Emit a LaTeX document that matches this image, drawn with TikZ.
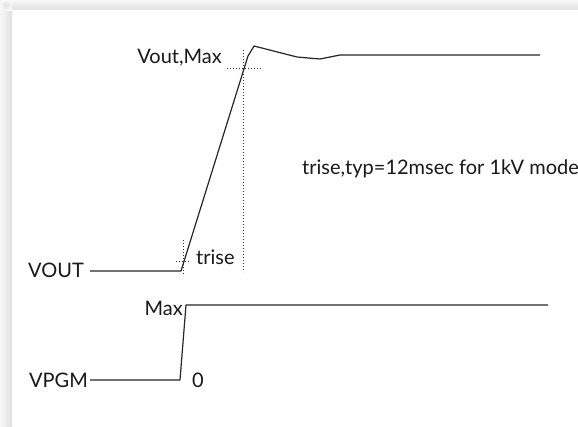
\documentclass[tikz,border=0pt]{standalone}
\usepackage{fontspec}
\setmainfont{Lato}
\begin{document}
\begin{tikzpicture}[x=1pt,y=-1pt,
  wave/.style={line width=1.2pt,black!85,line join=round},
  guide/.style={line width=1pt,dotted,black!80},
  lbl/.style={inner sep=0pt,font=\fontsize{20}{24}\selectfont,text=black!90}]
\useasboundingbox (0,0) rectangle (578,426);
\fill[white!95!black] (0,0) rectangle (578,426);
\shade[left color=white!97!black,right color=white!88!black] (0,10) rectangle (12,426);
\shade[top color=white!97!black,bottom color=white!88!black] (12,0) rectangle (578,10);
\shade[inner color=white!88!black,outer color=white!97!black] (0,0) rectangle (12,10);
\fill[white] (12,10) rectangle (578,426);

% VOUT waveform
\coordinate (v0) at (90,271);
\coordinate (v1) at (181,271);
\coordinate (v2) at (248,56);
\coordinate (v3) at (254,46);
\coordinate (v4) at (297,57);
\coordinate (v5) at (320,59);
\coordinate (v6) at (340,55);
\coordinate (v7) at (540,55);
\draw[wave] (v0) -- (v1) -- (v2) -- (v3) -- (v4) -- (v5) -- (v6) -- (v7);

% guides
\coordinate (g1a) at (243,50);
\coordinate (g1b) at (243,272);
\coordinate (g2a) at (227,68);
\coordinate (g2b) at (263,68);
\coordinate (g3a) at (183,240);
\coordinate (g3b) at (183,275);
\coordinate (g4a) at (176,261);
\coordinate (g4b) at (191,261);
\draw[guide] (g1a) -- (g1b);
\draw[guide] (g2a) -- (g2b);
\draw[guide] (g3a) -- (g3b);
\draw[guide] (g4a) -- (g4b);

% VPGM waveform
\coordinate (p0) at (90,380);
\coordinate (p1) at (180,380);
\coordinate (p2) at (186,305);
\coordinate (p3) at (548,305);
\draw[wave] (p0) -- (p1) -- (p2) -- (p3);

% labels
\node[lbl,anchor=east] (voutmax) at (222,58) {Vout,Max};
\node[lbl,anchor=east] (vout) at (84,270) {VOUT};
\node[lbl,anchor=west] (trise) at (196,257) {trise};
\node[lbl,anchor=west] (note) at (302,169) {trise,typ=12msec for 1kV model};
\node[lbl,anchor=east] (max) at (183,308) {Max};
\node[lbl,anchor=east] (vpgm) at (88,380) {VPGM};
\node[lbl,anchor=west] (zero) at (192,380) {0};
\end{tikzpicture}
\end{document}
